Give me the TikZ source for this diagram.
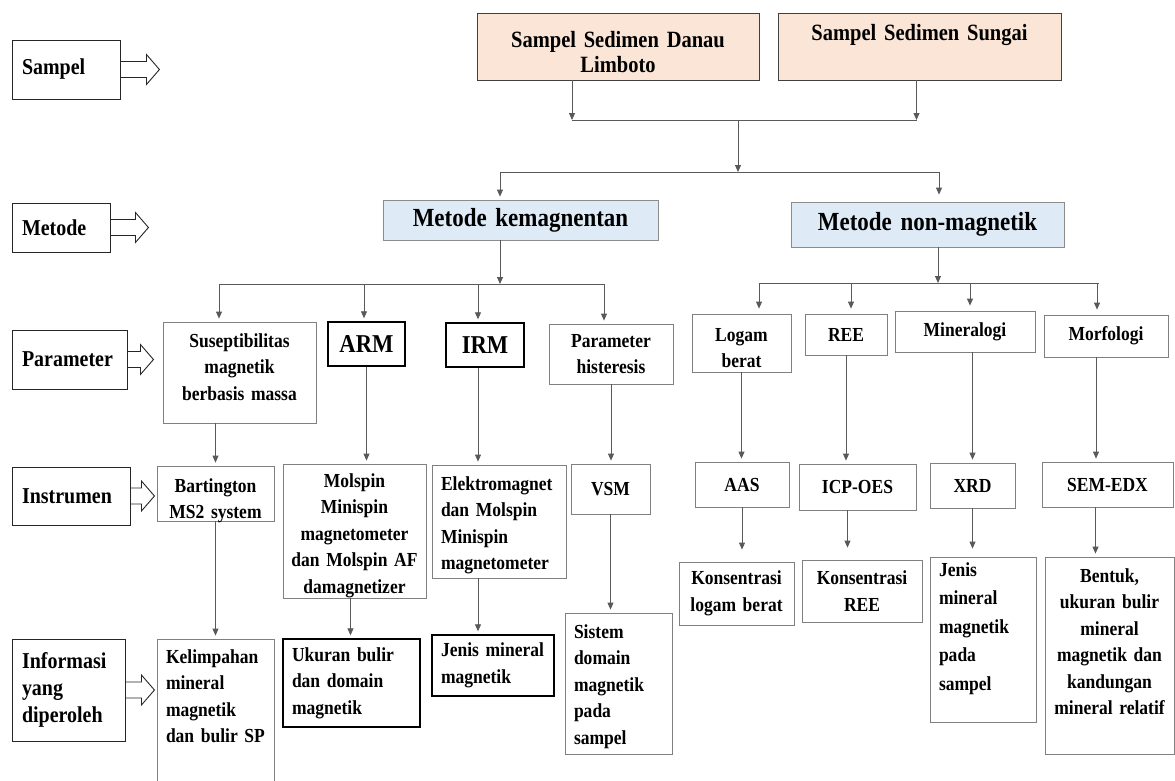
\documentclass[tikz,border=0pt]{standalone}
\usepackage{fontspec}
\setmainfont{Liberation Serif}[FakeStretch=0.88]
\usetikzlibrary{arrows.meta}
\definecolor{samplefill}{HTML}{FBE5D6}
\definecolor{methodfill}{HTML}{DEEBF7}

\begin{document}
\begin{tikzpicture}[
  x=1pt,y=-1pt,
  box/.style 2 args={
    draw=black!50,line width=.8pt,inner sep=0pt,align=center,
    minimum width=#1,minimum height=#2,text width=#1-14,
    font=\fontsize{19.9}{26.5}\selectfont\bfseries
  },
  lbox/.style 2 args={box={#1}{#2},align=left,text width=#1-18},
  toptext/.style 2 args={text height=#1,text depth=#2},
  boldframe/.style={draw=black,line width=1.4pt},
  bigtext/.style={font=\fontsize{25.7}{30}\selectfont\bfseries},
  sample/.style 2 args={
    box={#1}{#2},draw=black!75,line width=.9pt,fill=samplefill,
    font=\fontsize{23.3}{25}\selectfont\bfseries
  },
  method/.style 2 args={
    box={#1}{#2},draw=black!45,fill=methodfill,
    font=\fontsize{26.1}{30}\selectfont\bfseries
  },
  rowline/.style={draw=black!85,line width=.9pt},
  rowlabel/.style 2 args={
    rowline,inner sep=0pt,align=left,minimum width=#1,minimum height=#2,
    text width=#1-20,font=\fontsize{22.7}{26.7}\selectfont\bfseries
  },
  link/.style={draw=black!65,line width=.8pt},
  flow/.style={link,-{Triangle[length=7pt,width=6pt]},shorten >=3pt},
  tobus/.style={flow,shorten >=0pt},
  % hollow block arrow sticking out of a row label; #1 = stem length
  pics/pointer/.style={code={
    \draw[rowline] (0,-8) -- (#1,-8) -- (#1,-15) -- (#1+13,0)
      -- (#1,15) -- (#1,8) -- (0,8);
  }}
]
  \useasboundingbox (0,0) rectangle (1175,780);

  % row labels
  \node[rowlabel={108}{59}] (lsam) at (66,69.5) {Sampel};
  \node[rowlabel={98}{49}] (lmet) at (61,227.5) {Metode};
  \node[rowlabel={115}{59}] (lpar) at (69.5,359.5) {Parameter};
  \node[rowlabel={118}{58}] (lins) at (71,496) {Instrumen};
  \node[rowlabel={113}{102}] (linf) at (68.5,690) {Informasi\\yang\\diperoleh};
  \pic at (lsam.east) {pointer=26};
  \pic at (lmet.east) {pointer=25};
  \pic at (lpar.east) {pointer=13};
  \pic at (lins.east) {pointer=11};
  \pic at (linf.east) {pointer=16};

  % samples and methods
  \node[sample={282}{67},toptext={34}{33}] (danau) at (618,46.5) {Sampel Sedimen Danau\\Limboto};
  \node[sample={283}{0},toptext={27}{40}] (sungai) at (919.5,46.5) {Sampel Sedimen Sungai};
  \node[method={275}{40}] (mkem) at (520.5,220) {Metode kemagnentan};
  \node[method={273}{45}] (mnon) at (927.5,224.5) {Metode non-magnetik};

  % parameters
  \node[box={153}{101},toptext={25}{76}] (sus) at (239.5,372.5) {Suseptibilitas\\magnetik\\berbasis massa};
  \node[box={77}{44},boldframe,bigtext] (arm) at (366.5,344) {ARM};
  \node[box={78}{44},boldframe,bigtext] (irm) at (485,345) {IRM};
  \node[box={124}{60}] (phis) at (611,354) {Parameter\\histeresis};
  \node[box={99}{58},toptext={27}{31}] (logam) at (741.5,343) {Logam\\berat};
  \node[box={82}{41}] (ree) at (846,334.5) {REE};
  \node[box={140}{41}] (minr) at (965,331.5) {Mineralogi};
  \node[box={124}{42}] (morf) at (1106,336) {Morfologi};

  % instruments
  \node[box={117}{55},toptext={26}{29}] (bart) at (215.5,493.5) {Bartington\\MS2 system};
  \node[box={143}{134},toptext={23}{111}] (mol) at (354.5,531)
    {Molspin\\Minispin\\magnetometer\\dan Molspin AF\\damagnetizer};
  \node[lbox={134}{113},toptext={25}{88}] (elek) at (499,521.5)
    {Elektromagnet\\dan Molspin\\Minispin\\magnetometer};
  \node[box={79}{50}] (vsm) at (610.5,489) {VSM};
  \node[box={94}{45}] (aas) at (742,484.5) {AAS};
  \node[box={117}{46}] (icp) at (857.5,487) {ICP-OES};
  \node[box={85}{45}] (xrd) at (972.5,485.5) {XRD};
  \node[box={131}{45}] (sem) at (1107.5,484.5) {SEM-EDX};

  % information obtained
  \node[lbox={117}{0},toptext={24}{127}] (kel) at (215.5,714.5)
    {Kelimpahan\\mineral\\magnetik\\dan bulir SP};
  \node[lbox={137}{88},boldframe] (uk) at (351.5,683) {Ukuran bulir\\dan domain\\magnetik};
  \node[lbox={122}{61},boldframe] (jen) at (493,665.5) {Jenis mineral\\magnetik};
  \node[lbox={107}{0},toptext={25}{116}] (sis) at (618.5,683.5)
    {Sistem\\domain\\magnetik\\pada\\sampel};
  \node[box={115}{63}] (klog) at (736.5,593.5) {Konsentrasi\\logam berat};
  \node[box={120}{62}] (kree) at (862,591) {Konsentrasi\\REE};
  \node[lbox={106}{0},toptext={19}{146},font=\fontsize{19.9}{28.5}\selectfont\bfseries]
    (jps) at (983,639.5) {Jenis\\mineral\\magnetik\\pada\\sampel};
  \node[box={129}{0},toptext={25}{172}] (bent) at (1109.5,655.5)
    {Bentuk,\\ukuran bulir\\mineral\\magnetik dan\\kandungan\\mineral relatif};

  % samples merge, then split
  \coordinate (j1) at (738,120);
  \coordinate (j2) at (738,172);
  \draw[tobus] ([xshift=-46]danau.south) -- ([xshift=-46]danau.south |- j1);
  \draw[tobus] ([xshift=-3]sungai.south) -- ([xshift=-3]sungai.south |- j1);
  \draw[link] ([xshift=-46]danau.south |- j1) -- ([xshift=-3]sungai.south |- j1);
  \draw[tobus] (j1) -- (j2);
  \coordinate (k1) at (500,172);
  \coordinate (k2) at (939,172);
  \draw[link] (k1) -- (k2);
  \draw[flow] (k1) -- (k1 |- mkem.north);
  \draw[flow,shorten >=7pt] (k2) -- (k2 |- mnon.north);

  % magnetic branch
  \coordinate (p0) at (500,284);
  \draw[tobus] (p0 |- mkem.south) -- (p0);
  \foreach \c/\x/\n in {p1/219/sus,p2/364/arm,p3/478/irm,p4/604/phis}{
    \coordinate (\c) at (\x,284);
    \draw[flow] (\c) -- (\c |- \n.north);
  }
  \draw[link] (p1) -- (p4);

  % non-magnetic branch
  \coordinate (q0) at (938,283);
  \draw[tobus] (q0 |- mnon.south) -- (q0);
  \foreach \c/\x/\n in {q1/759/logam,q2/851/ree,q3/970/minr,q4/1097/morf}{
    \coordinate (\c) at (\x,283);
    \draw[flow,shorten >=5pt] (\c) -- (\c |- \n.north);
  }
  \draw[link] (q1) -- ([xshift=2]q4);

  % parameter -> instrument
  \draw[flow] (bart.north |- sus.south) -- (bart.north);
  \draw[flow] (arm.south) -- (arm.south |- mol.north);
  \draw[flow] ([xshift=-7]irm.south) -- ([xshift=-7]irm.south |- elek.north);
  \draw[flow] (phis.south) -- (phis.south |- vsm.north);
  \draw[flow] (logam.south) -- (logam.south |- aas.north);
  \draw[flow] (ree.south) -- (ree.south |- icp.north);
  \draw[flow] (xrd.north |- minr.south) -- (xrd.north);
  \draw[flow] ([xshift=-10]morf.south) -- ([xshift=-10]morf.south |- sem.north);

  % instrument -> information
  \draw[flow] (bart.south) -- (bart.south |- kel.north);
  \draw[flow] ([xshift=-4]mol.south) -- ([xshift=-4]mol.south |- uk.north);
  \draw[flow] ([xshift=-21]elek.south) -- ([xshift=-21]elek.south |- jen.north);
  \draw[flow] (vsm.south) -- (vsm.south |- sis.north);
  \draw[flow,shorten >=12pt] (aas.south) -- (aas.south |- klog.north);
  \draw[flow,shorten >=12pt] ([xshift=-10]icp.south) -- ([xshift=-10]icp.south |- kree.north);
  \draw[flow,shorten >=8pt] (xrd.south) -- (xrd.south |- jps.north);
  \draw[flow] ([xshift=-12]sem.south) -- ([xshift=-12]sem.south |- bent.north);
\end{tikzpicture}
\end{document}
